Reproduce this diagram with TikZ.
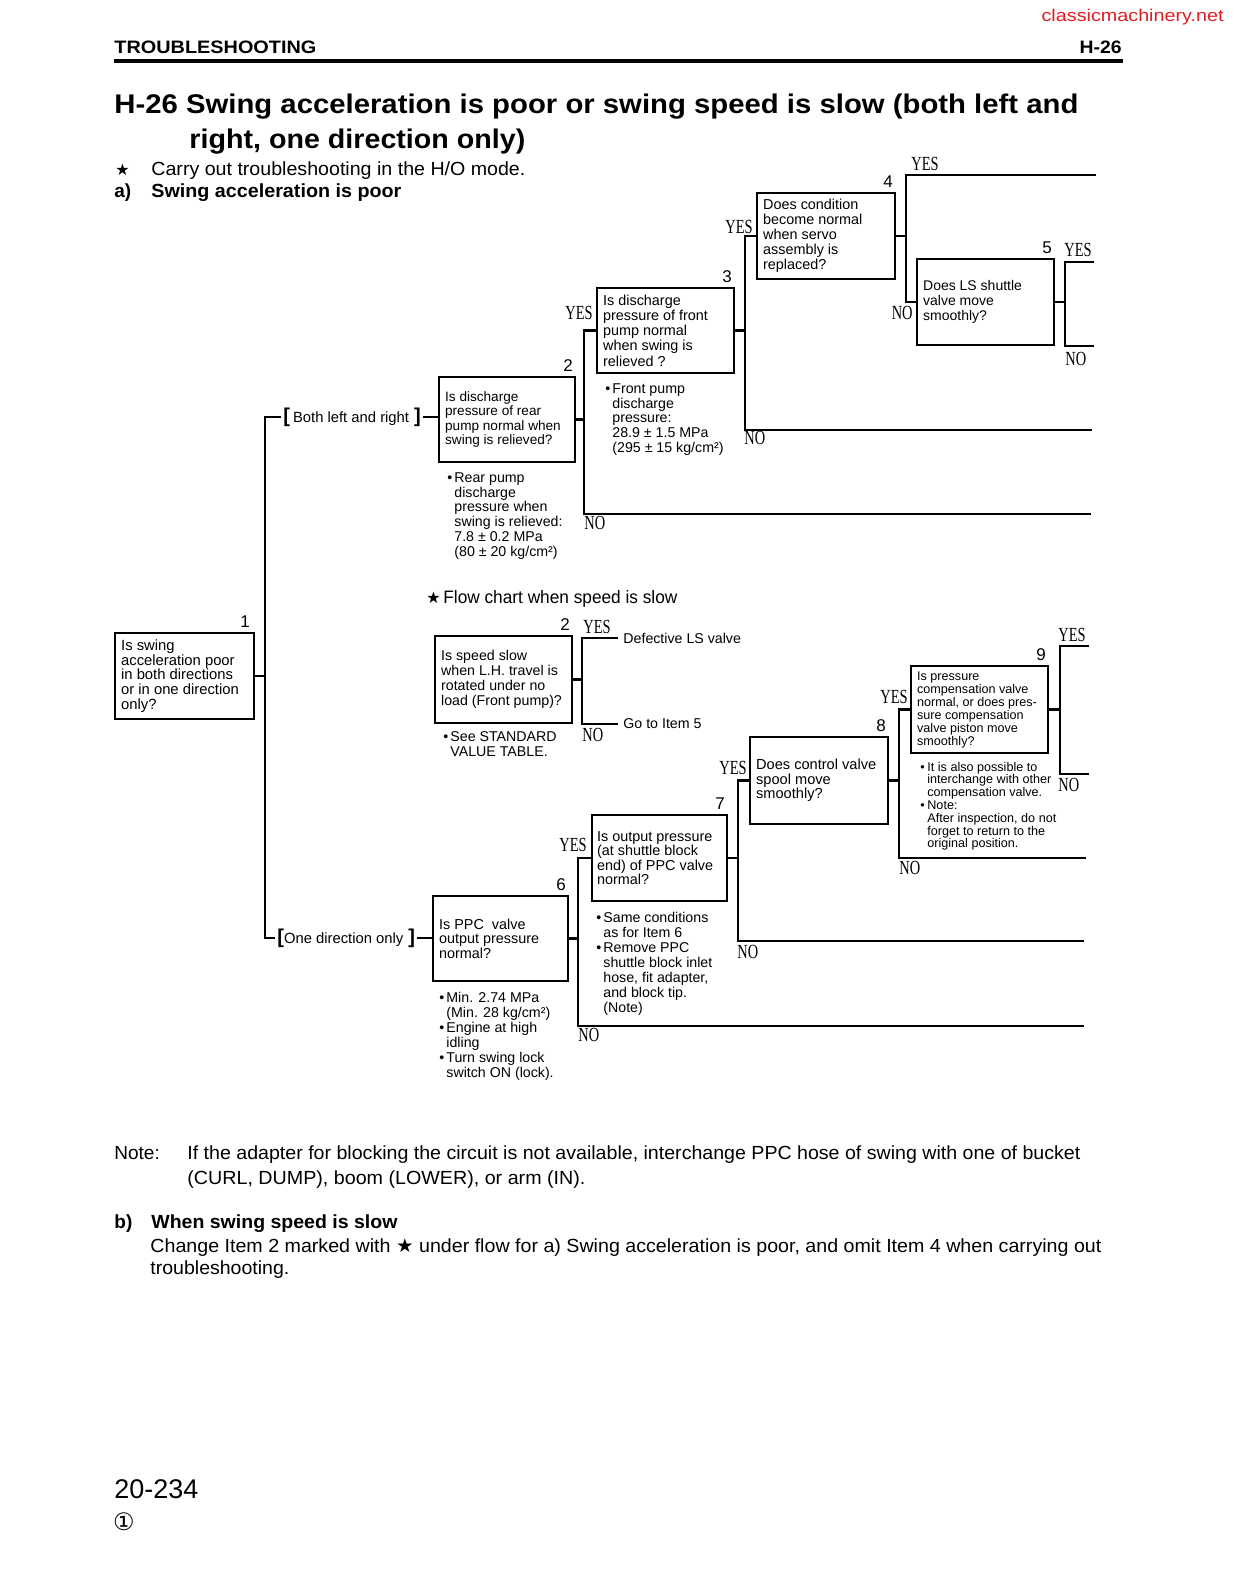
\documentclass[tikz,border=0pt]{standalone}
\usepackage{fontspec}
\setmainfont{Liberation Sans}
\newfontfamily\serifyn{Liberation Serif}
\newfontfamily\djv{DejaVu Sans}
\usepackage{graphicx}
\definecolor{wmred}{RGB}{226,28,36}
\newcommand{\fsz}[2]{\fontsize{#1}{#2}\selectfont}
\newcommand{\mybul}{\makebox[3.5pt][l]{\textbullet}}
\newcommand{\myind}{\hspace*{3.5pt}}
\newcommand{\wfit}[2]{\resizebox{#1}{\height}{#2}}
\newcommand{\yestxt}{\scalebox{0.72}[1]{YES}}
\newcommand{\notxt}{\scalebox{0.72}[1]{NO}}
\newcommand{\brk}[1]{{\fsz{10}{10}\bfseries#1}}
\newcommand{\mystar}{{\djv ★}}
\tikzset{
 conn/.style={line width=1.35pt, line cap=rect},
 qbox/.style={draw, line width=1.25pt, rectangle, inner sep=0pt},
 btext/.style={inner sep=0pt, align=left, anchor=west},
 note/.style={inner sep=0pt, align=left, anchor=north west, font=\fsz{7.1}{7.45}},
 yn/.style={inner sep=0pt, font=\fsz{10}{10}\serifyn},
 num/.style={inner sep=0pt, anchor=south east, font=\fsz{8.5}{9}},
 txt/.style={inner sep=0pt, anchor=base west},
 lbl/.style={inner sep=0pt, anchor=west, inner xsep=3pt, font=\fsz{7.1}{8}},
 brl/.style={inner ysep=0pt, inner xsep=1.5pt, anchor=west, font=\fsz{7.4}{8}},
}
\begin{document}
\begin{tikzpicture}[x=0.5pt,y=-0.5pt]
\useasboundingbox (0,0) rectangle (1234,1586);
\fill[white] (0,0) rectangle (1234,1586);

% ---------- header ----------
\node[anchor=base east, inner sep=0pt, text=wmred, font=\fsz{8.5}{9}] (wm) at (1224,21) {\wfit{91pt}{classicmachinery.net}};
\node[txt, font=\fsz{9}{10}\bfseries] (hdl) at (114,53.5) {\wfit{101pt}{TROUBLESHOOTING}};
\node[anchor=base east, inner sep=0pt, font=\fsz{9}{10}\bfseries] (hdr) at (1122,53.5) {\wfit{21pt}{H-26}};
\coordinate (rl) at (114,61);
\coordinate (rr) at (1123,61);
\draw[line width=1.8pt] (rl) -- (rr);

% ---------- title ----------
\node[txt, font=\fsz{13.5}{15}\bfseries] (t1) at (114,113) {\wfit{482pt}{H-26 Swing acceleration is poor or swing speed is slow (both left and}};
\node[txt, font=\fsz{13.5}{15}\bfseries] (t2) at (189,148) {\wfit{168pt}{right, one direction only)}};
\node[txt, font=\fsz{8}{9}\djv] (st1) at (115,175) {★};
\node[txt, font=\fsz{9.5}{10}] (l1) at (151,175) {\wfit{187pt}{Carry out troubleshooting in the H/O mode.}};
\node[txt, font=\fsz{9.5}{10}\bfseries] (l2a) at (114,197) {a)};
\node[txt, font=\fsz{9.5}{10}\bfseries] (l2) at (151,197) {\wfit{125pt}{Swing acceleration is poor}};

% ---------- boxes ----------
\node[qbox, minimum width=69.5pt, minimum height=43pt] (b1) at (184.5,676) {};
\node[btext, font=\fsz{7.4}{7.4}] (b1t) at ([xshift=3.5pt]b1.west) {Is swing\\acceleration poor\\in both directions\\or in one direction\\only?};
\node[num] (n1) at ([xshift=-2.5pt,yshift=2pt]b1.north east) {1};

\node[qbox, minimum width=68pt, minimum height=42.5pt] (b2) at (507,419.5) {};
\node[btext, font=\fsz{6.8}{7.2}] (b2t) at ([xshift=3.5pt]b2.west) {Is discharge\\pressure of rear\\pump normal when\\swing is relieved?};
\node[num] (n2) at ([xshift=-1.5pt,yshift=2pt]b2.north east) {2};

\node[qbox, minimum width=68.5pt, minimum height=42.5pt] (b3) at (665.5,330.5) {};
\node[btext, font=\fsz{7.2}{7.6}] (b3t) at ([xshift=3.5pt]b3.west) {Is discharge\\pressure of front\\pump normal\\when swing is\\relieved ?};
\node[num] (n3) at ([xshift=-1.5pt,yshift=2pt]b3.north east) {3};

\node[qbox, minimum width=69pt, minimum height=43pt] (b4) at (826,236) {};
\node[btext, font=\fsz{7.2}{7.5}] (b4t) at ([xshift=3.5pt]b4.west) {Does condition\\become normal\\when servo\\assembly is\\replaced?};
\node[num] (n4) at ([xshift=-1.5pt,yshift=2pt]b4.north east) {4};

\node[qbox, minimum width=68.5pt, minimum height=43pt] (b5) at (985.5,302) {};
\node[btext, font=\fsz{7}{7.5}] (b5t) at ([xshift=3.5pt]b5.west) {Does LS shuttle\\valve move\\smoothly?};
\node[num] (n5) at ([xshift=-1.5pt,yshift=2pt]b5.north east) {5};

\node[qbox, minimum width=68.5pt, minimum height=43.5pt] (s2) at (503.5,679.5) {};
\node[btext, font=\fsz{7.1}{7.5}] (s2t) at ([xshift=3.5pt]s2.west) {Is speed slow\\when L.H. travel is\\rotated under no\\load (Front pump)?};
\node[num] (ns2) at ([xshift=-1.5pt,yshift=2pt]s2.north east) {2};

\node[qbox, minimum width=67.5pt, minimum height=42.5pt] (b6) at (500.5,938.5) {};
\node[btext, font=\fsz{7.2}{7.25}] (b6t) at ([xshift=3.5pt]b6.west) {Is PPC\ \ valve\\output pressure\\normal?};
\node[num] (n6) at ([xshift=-1.5pt,yshift=2pt]b6.north east) {6};

\node[qbox, minimum width=67.5pt, minimum height=43pt] (b7) at (659.5,858) {};
\node[btext, font=\fsz{7.2}{7.2}] (b7t) at ([xshift=3pt]b7.west) {Is output pressure\\(at shuttle block\\end) of PPC valve\\normal?};
\node[num] (n7) at ([xshift=-1.5pt,yshift=2pt]b7.north east) {7};

\node[qbox, minimum width=69pt, minimum height=43.5pt] (b8) at (819,780.5) {};
\node[btext, font=\fsz{7.3}{7.25}] (b8t) at ([xshift=3.5pt]b8.west) {Does control valve\\spool move\\smoothly?};
\node[num] (n8) at ([xshift=-1.5pt,yshift=2pt]b8.north east) {8};

\node[qbox, minimum width=68.5pt, minimum height=43.5pt] (b9) at (979.5,709.5) {};
\node[btext, font=\fsz{6.3}{6.5}] (b9t) at ([xshift=3.5pt]b9.west) {Is pressure\\compensation valve\\normal, or does pres-\\sure compensation\\valve piston move\\smoothly?};
\node[num] (n9) at ([xshift=-1.5pt,yshift=2pt]b9.north east) {9};

% ---------- notes ----------
\node[note] (nt2) at (447,472) {\mybul Rear pump\\\myind discharge\\\myind pressure when\\\myind swing is relieved:\\\myind 7.8 ± 0.2 MPa\\\myind (80 ± 20 kg/cm²)};
\node[note] (nt3) at (605,383) {\mybul Front pump\\\myind discharge\\\myind pressure:\\\myind 28.9 ± 1.5 MPa\\\myind (295 ± 15 kg/cm²)};
\node[note] (nts) at (443,731) {\mybul See STANDARD\\\myind VALUE TABLE.};
\node[note] (nt6) at (439,992) {\mybul Min. 2.74 MPa\\\myind (Min. 28 kg/cm²)\\\mybul Engine at high\\\myind idling\\\mybul Turn swing lock\\\myind switch ON (lock).};
\node[note] (nt7) at (596,912) {\mybul Same conditions\\\myind as for Item 6\\\mybul Remove PPC\\\myind shuttle block inlet\\\myind hose, fit adapter,\\\myind and block tip.\\\myind (Note)};
\node[note, font=\fsz{6.3}{6.4}] (nt9) at (920,761.5) {\mybul It is also possible to\\\myind interchange with other\\\myind compensation valve.\\\mybul Note:\\\myind After inspection, do not\\\myind forget to return to the\\\myind original position.};

% ---------- bracket labels and trunk ----------
\node[brl] (la) at (280,417) {\brk{[}\hspace{1.5pt}Both left and right\hspace{2.5pt}\brk{]}};
\node[brl] (lb) at (274,938) {\brk{[}One direction only\hspace{2.5pt}\brk{]}};
\coordinate (f1t) at (265,417);
\coordinate (f1b) at (265,938);
\draw[conn] (b1.east) -- (b1.east -| f1t);
\draw[conn] (la.west) -| (f1b) -- (lb.west);
\draw[conn] (la.east) -- (la.east -| b2.west);
\draw[conn] (lb.east) -- (lb.east -| b6.west);

% ---------- forks part a ----------
\coordinate (f2b) at (584,514);
\coordinate (e2) at (1090,514);
\draw[conn] (b2.east) -- (b2.east -| f2b);
\draw[conn] (b3.west) -| (f2b) -- (e2);
\node[yn, anchor=east] (y2) at (593,313) {\yestxt};
\node[yn, anchor=west] (o2) at (584,523) {\notxt};

\coordinate (f3b) at (745,430);
\coordinate (e3) at (1091,430);
\draw[conn] (b3.east) -- (b3.east -| f3b);
\draw[conn] (b4.west) -| (f3b) -- (e3);
\node[yn, anchor=east] (y3) at (753,227) {\yestxt};
\node[yn, anchor=west] (o3) at (744,438) {\notxt};

\coordinate (f4t) at (906,175);
\coordinate (e4) at (1095,175);
\draw[conn] (b4.east) -- (b4.east -| f4t);
\draw[conn] (e4) -- (f4t) |- (b5.west);
\node[yn, anchor=west] (y4) at (911,164) {\yestxt};
\node[yn, anchor=east] (o4) at (913,313) {\notxt};

\coordinate (f5t) at (1065,262);
\coordinate (f5b) at (1065,346);
\coordinate (e5t) at (1093,262);
\coordinate (e5b) at (1093,346);
\draw[conn] (b5.east) -- (b5.east -| f5t);
\draw[conn] (e5t) -- (f5t) -- (f5b) -- (e5b);
\node[yn, anchor=west] (y5) at (1064,250) {\yestxt};
\node[yn, anchor=west] (o5) at (1065,359) {\notxt};

% ---------- flow chart when speed is slow ----------
\node[txt, font=\fsz{8}{9}\djv] (st2) at (426,603) {★};
\node[txt, font=\fsz{9}{10}] (fct) at (443,603) {\wfit{117pt}{Flow chart when speed is slow}};
\node[lbl] (ds) at (617,638) {Defective LS valve};
\node[lbl] (gi) at (617,724) {Go to Item 5};
\coordinate (sfb) at (582,724);
\draw[conn] (s2.east) -- (s2.east -| sfb);
\draw[conn] (ds.west) -| (sfb) -- (gi.west);
\node[yn, anchor=west] (ys) at (583,627) {\yestxt};
\node[yn, anchor=west] (os) at (582,735) {\notxt};

% ---------- forks one direction ----------
\coordinate (f6b) at (578,1026);
\coordinate (e6) at (1083,1026);
\draw[conn] (b6.east) -- (b6.east -| f6b);
\draw[conn] (b7.west) -| (f6b) -- (e6);
\node[yn, anchor=east] (y6) at (587,845) {\yestxt};
\node[yn, anchor=west] (o6) at (578,1035) {\notxt};

\coordinate (f7b) at (738,941);
\coordinate (e7) at (1083,941);
\draw[conn] (b7.east) -- (b7.east -| f7b);
\draw[conn] (b8.west) -| (f7b) -- (e7);
\node[yn, anchor=east] (y7) at (747,768) {\yestxt};
\node[yn, anchor=west] (o7) at (737,952) {\notxt};

\coordinate (f8b) at (899,858);
\coordinate (e8) at (1085,858);
\draw[conn] (b8.east) -- (b8.east -| f8b);
\draw[conn] (b9.west) -| (f8b) -- (e8);
\node[yn, anchor=east] (y8) at (908,697) {\yestxt};
\node[yn, anchor=west] (o8) at (899,868) {\notxt};

\coordinate (f9t) at (1060,646);
\coordinate (f9b) at (1060,774);
\coordinate (e9t) at (1088,646);
\coordinate (e9b) at (1088,774);
\draw[conn] (b9.east) -- (b9.east -| f9t);
\draw[conn] (e9t) -- (f9t) -- (f9b) -- (e9b);
\node[yn, anchor=west] (y9) at (1058,635) {\yestxt};
\node[yn, anchor=west] (o9) at (1058,785) {\notxt};

% ---------- bottom text ----------
\node[txt, font=\fsz{9.5}{10}] (nl) at (114,1159) {Note:};
\node[txt, font=\fsz{9.5}{10}] (n1l) at (187,1159) {\wfit{446.5pt}{If the adapter for blocking the circuit is not available, interchange PPC hose of swing with one of bucket}};
\node[txt, font=\fsz{9.5}{10}] (n2l) at (187,1184) {\wfit{199pt}{(CURL, DUMP), boom (LOWER), or arm (IN).}};
\node[txt, font=\fsz{9.5}{10}\bfseries] (bl) at (114,1228) {b)};
\node[txt, font=\fsz{9.5}{10}\bfseries] (b1l) at (151,1228) {\wfit{123pt}{When swing speed is slow}};
\node[txt, font=\fsz{9.5}{10}] (b2l) at (150,1252) {\wfit{475.5pt}{Change Item 2 marked with \mystar\ under flow for a) Swing acceleration is poor, and omit Item 4 when carrying out}};
\node[txt, font=\fsz{9.5}{10}] (b3l) at (150,1274) {\wfit{69.5pt}{troubleshooting.}};

\node[txt, font=\fsz{13.5}{14}] (pg) at (114,1498) {\wfit{42pt}{20-234}};
\node[inner sep=0pt, font=\fsz{12}{12}\djv] (rev) at (124,1522) {①};
\end{tikzpicture}
\end{document}
